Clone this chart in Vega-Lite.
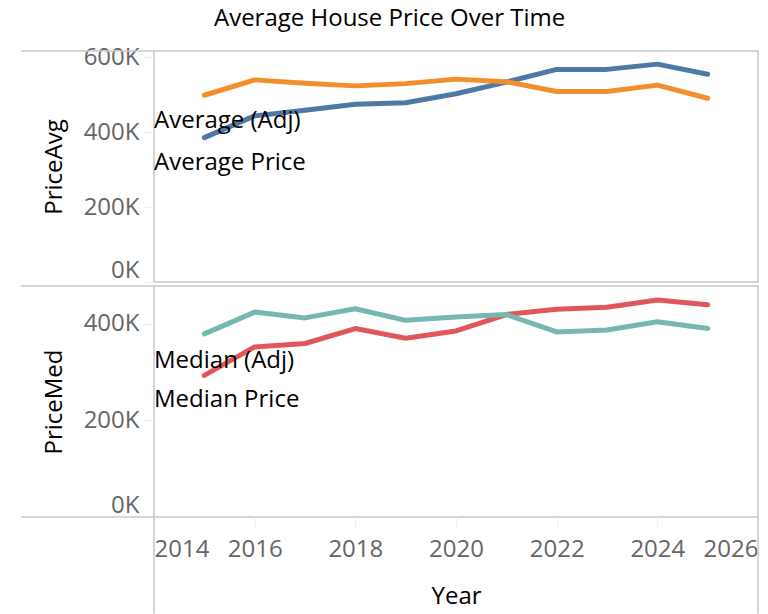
{
  "$schema": "https://vega.github.io/schema/vega-lite/v6.json",
  "title": {
    "text": "Average House Price Over Time",
    "fontSize": 24,
    "fontWeight": "normal",
    "color": "#000000",
    "font": "Open Sans",
    "anchor": "middle",
    "offset": 13
  },
  "padding": {"left": 19, "top": 7, "right": 5, "bottom": 0},
  "spacing": 0,
  "config": {
    "view": {"stroke": "#c8c8c8", "strokeWidth": 1.5},
    "font": "Open Sans",
    "axis": {
      "labelFont": "Open Sans",
      "labelFontSize": 24,
      "labelColor": "#666666",
      "titleFont": "Open Sans",
      "titleFontSize": 24,
      "titleFontWeight": "normal",
      "titleColor": "#000000",
      "gridColor": "#f0f0f0",
      "gridWidth": 1.5,
      "tickColor": "#f0f0f0",
      "tickWidth": 1.5,
      "tickSize": 10,
      "domain": false
    }
  },
  "datasets": {
    "avg": [
      {"Year": 2015, "Series": "Average (Adj)", "Price": 385000},
      {"Year": 2016, "Series": "Average (Adj)", "Price": 443000},
      {"Year": 2017, "Series": "Average (Adj)", "Price": 458000},
      {"Year": 2018, "Series": "Average (Adj)", "Price": 474000},
      {"Year": 2019, "Series": "Average (Adj)", "Price": 478000},
      {"Year": 2020, "Series": "Average (Adj)", "Price": 502000},
      {"Year": 2021, "Series": "Average (Adj)", "Price": 533000},
      {"Year": 2022, "Series": "Average (Adj)", "Price": 567000},
      {"Year": 2023, "Series": "Average (Adj)", "Price": 567000},
      {"Year": 2024, "Series": "Average (Adj)", "Price": 581000},
      {"Year": 2025, "Series": "Average (Adj)", "Price": 554000},
      {"Year": 2015, "Series": "Average Price", "Price": 498000},
      {"Year": 2016, "Series": "Average Price", "Price": 539000},
      {"Year": 2017, "Series": "Average Price", "Price": 530000},
      {"Year": 2018, "Series": "Average Price", "Price": 523000},
      {"Year": 2019, "Series": "Average Price", "Price": 529000},
      {"Year": 2020, "Series": "Average Price", "Price": 541000},
      {"Year": 2021, "Series": "Average Price", "Price": 534000},
      {"Year": 2022, "Series": "Average Price", "Price": 508000},
      {"Year": 2023, "Series": "Average Price", "Price": 508000},
      {"Year": 2024, "Series": "Average Price", "Price": 525000},
      {"Year": 2025, "Series": "Average Price", "Price": 490000}
    ],
    "med": [
      {"Year": 2015, "Series": "Median (Adj)", "Price": 293000},
      {"Year": 2016, "Series": "Median (Adj)", "Price": 352000},
      {"Year": 2017, "Series": "Median (Adj)", "Price": 359000},
      {"Year": 2018, "Series": "Median (Adj)", "Price": 390000},
      {"Year": 2019, "Series": "Median (Adj)", "Price": 370000},
      {"Year": 2020, "Series": "Median (Adj)", "Price": 385000},
      {"Year": 2021, "Series": "Median (Adj)", "Price": 419000},
      {"Year": 2022, "Series": "Median (Adj)", "Price": 430000},
      {"Year": 2023, "Series": "Median (Adj)", "Price": 434000},
      {"Year": 2024, "Series": "Median (Adj)", "Price": 449000},
      {"Year": 2025, "Series": "Median (Adj)", "Price": 439000},
      {"Year": 2015, "Series": "Median Price", "Price": 379000},
      {"Year": 2016, "Series": "Median Price", "Price": 424000},
      {"Year": 2017, "Series": "Median Price", "Price": 412000},
      {"Year": 2018, "Series": "Median Price", "Price": 431000},
      {"Year": 2019, "Series": "Median Price", "Price": 407000},
      {"Year": 2020, "Series": "Median Price", "Price": 414000},
      {"Year": 2021, "Series": "Median Price", "Price": 419000},
      {"Year": 2022, "Series": "Median Price", "Price": 383000},
      {"Year": 2023, "Series": "Median Price", "Price": 387000},
      {"Year": 2024, "Series": "Median Price", "Price": 404000},
      {"Year": 2025, "Series": "Median Price", "Price": 390000}
    ]
  },
  "vconcat": [
    {
      "width": 604,
      "height": 231,
      "layer": [
        {
          "data": {"values": [{}]},
          "mark": {"type": "rule", "color": "#c8c8c8", "strokeWidth": 1.5, "clip": false},
          "encoding": {
            "x": {"datum": 2011.36, "type": "quantitative", "scale": {"domain": [2014, 2026], "nice": false, "zero": false}},
            "x2": {"datum": 2014},
            "y": {"datum": 616000, "type": "quantitative", "scale": {"domain": [0, 616000], "nice": false}}
          }
        },
        {
          "data": {"name": "avg"},
          "mark": {"type": "line", "strokeWidth": 5, "strokeCap": "round", "strokeJoin": "round"},
          "encoding": {
            "x": {
              "field": "Year",
              "type": "quantitative",
              "scale": {"domain": [2014, 2026], "nice": false, "zero": false},
              "axis": {
                "values": [2014, 2016, 2018, 2020, 2022, 2024, 2026],
                "labels": false,
                "ticks": false,
                "title": null
              }
            },
            "y": {
              "field": "Price",
              "type": "quantitative",
              "scale": {"domain": [0, 616000], "nice": false},
              "title": "PriceAvg",
              "axis": {
                "values": [0, 200000, 400000, 600000],
                "labelExpr": "format(datum.value / 1000, 'd') + 'K'",
                "labelFlush": true,
                "labelPadding": 5,
                "titlePadding": 17
              }
            },
            "color": {
              "field": "Series",
              "type": "nominal",
              "scale": {
                "domain": ["Average (Adj)", "Average Price", "Median (Adj)", "Median Price"],
                "range": ["#4e79a7", "#f28e2b", "#e15759", "#76b7b2"]
              },
              "legend": null
            }
          }
        },
        {
          "data": {"values": [{"label": "Average (Adj)"}]},
          "mark": {"type": "text", "align": "left", "baseline": "alphabetic", "fontSize": 24, "font": "Open Sans", "color": "#000000"},
          "encoding": {
            "x": {"datum": 2014, "type": "quantitative", "scale": {"domain": [2014, 2026], "nice": false, "zero": false}},
            "y": {"datum": 412000, "type": "quantitative", "scale": {"domain": [0, 616000], "nice": false}},
            "text": {"field": "label"}
          }
        },
        {
          "data": {"values": [{"label": "Average Price"}]},
          "mark": {"type": "text", "align": "left", "baseline": "alphabetic", "fontSize": 24, "font": "Open Sans", "color": "#000000"},
          "encoding": {
            "x": {"datum": 2014, "type": "quantitative", "scale": {"domain": [2014, 2026], "nice": false, "zero": false}},
            "y": {"datum": 300000, "type": "quantitative", "scale": {"domain": [0, 616000], "nice": false}},
            "text": {"field": "label"}
          }
        }
      ]
    },
    {
      "width": 604,
      "height": 231,
      "layer": [
        {
          "data": {"values": [{}]},
          "mark": {"type": "rule", "color": "#c8c8c8", "strokeWidth": 1.5, "clip": false},
          "encoding": {
            "x": {"datum": 2011.36, "type": "quantitative", "scale": {"domain": [2014, 2026], "nice": false, "zero": false}},
            "x2": {"datum": 2014},
            "y": {"datum": 478000, "type": "quantitative", "scale": {"domain": [0, 478000], "nice": false}}
          }
        },
        {
          "data": {"values": [{}]},
          "mark": {"type": "rule", "color": "#c8c8c8", "strokeWidth": 1.5, "clip": false},
          "encoding": {
            "x": {"datum": 2011.36, "type": "quantitative", "scale": {"domain": [2014, 2026], "nice": false, "zero": false}},
            "x2": {"datum": 2014},
            "y": {"datum": 0, "type": "quantitative", "scale": {"domain": [0, 478000], "nice": false}}
          }
        },
        {
          "data": {"values": [{}]},
          "mark": {"type": "rule", "color": "#c8c8c8", "strokeWidth": 1.5, "clip": false},
          "encoding": {
            "x": {"datum": 2014, "type": "quantitative", "scale": {"domain": [2014, 2026], "nice": false, "zero": false}},
            "y": {"datum": 0, "type": "quantitative", "scale": {"domain": [0, 478000], "nice": false}},
            "y2": {"datum": -200000}
          }
        },
        {
          "data": {"values": [{}]},
          "mark": {"type": "rule", "color": "#c8c8c8", "strokeWidth": 1.5, "clip": false},
          "encoding": {
            "x": {"datum": 2026, "type": "quantitative", "scale": {"domain": [2014, 2026], "nice": false, "zero": false}},
            "y": {"datum": 0, "type": "quantitative", "scale": {"domain": [0, 478000], "nice": false}},
            "y2": {"datum": -200000}
          }
        },
        {
          "data": {"name": "med"},
          "mark": {"type": "line", "strokeWidth": 5, "strokeCap": "round", "strokeJoin": "round"},
          "encoding": {
            "x": {
              "field": "Year",
              "type": "quantitative",
              "scale": {"domain": [2014, 2026], "nice": false, "zero": false},
              "title": "Year",
              "axis": {
                "values": [2014, 2016, 2018, 2020, 2022, 2024, 2026],
                "format": "d",
                "labelFlush": true,
                "labelPadding": 10,
                "titlePadding": 23
              }
            },
            "y": {
              "field": "Price",
              "type": "quantitative",
              "scale": {"domain": [0, 478000], "nice": false},
              "title": "PriceMed",
              "axis": {
                "values": [0, 200000, 400000],
                "labelExpr": "format(datum.value / 1000, 'd') + 'K'",
                "labelFlush": true,
                "labelPadding": 5,
                "titlePadding": 17
              }
            },
            "color": {
              "field": "Series",
              "type": "nominal",
              "scale": {
                "domain": ["Average (Adj)", "Average Price", "Median (Adj)", "Median Price"],
                "range": ["#4e79a7", "#f28e2b", "#e15759", "#76b7b2"]
              },
              "legend": null
            }
          }
        },
        {
          "data": {"values": [{"label": "Median (Adj)"}]},
          "mark": {"type": "text", "align": "left", "baseline": "alphabetic", "fontSize": 24, "font": "Open Sans", "color": "#000000"},
          "encoding": {
            "x": {"datum": 2014, "type": "quantitative", "scale": {"domain": [2014, 2026], "nice": false, "zero": false}},
            "y": {"datum": 309000, "type": "quantitative", "scale": {"domain": [0, 478000], "nice": false}},
            "text": {"field": "label"}
          }
        },
        {
          "data": {"values": [{"label": "Median Price"}]},
          "mark": {"type": "text", "align": "left", "baseline": "alphabetic", "fontSize": 24, "font": "Open Sans", "color": "#000000"},
          "encoding": {
            "x": {"datum": 2014, "type": "quantitative", "scale": {"domain": [2014, 2026], "nice": false, "zero": false}},
            "y": {"datum": 228000, "type": "quantitative", "scale": {"domain": [0, 478000], "nice": false}},
            "text": {"field": "label"}
          }
        }
      ]
    }
  ]
}
